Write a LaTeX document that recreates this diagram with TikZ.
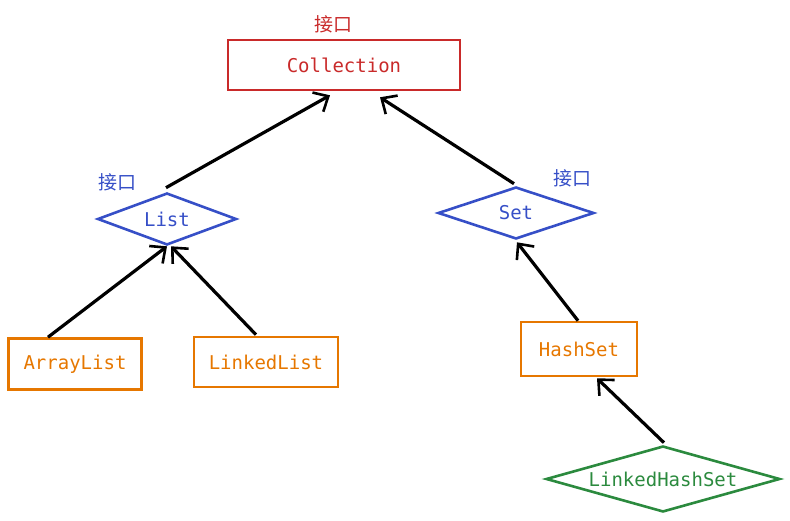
\documentclass[tikz,border=0pt]{standalone}
\usepackage{fontspec}
\setmonofont{DejaVu Sans Mono}
\newfontfamily\cjk{Noto Sans CJK SC}
\usetikzlibrary{shapes.geometric,arrows.meta,calc}
\definecolor{cred}{HTML}{C92A2A}
\definecolor{cblue}{HTML}{364FC7}
\definecolor{corange}{HTML}{E67700}
\definecolor{cgreen}{HTML}{2B8A3E}
\tikzset{
  lbl/.style={font=\ttfamily\fontsize{19}{21}\selectfont},
  boxnode/.style={lbl, draw, line width=2.6pt, rectangle, inner sep=0pt},
  dianode/.style={lbl, draw, line width=2.6pt, diamond, inner sep=0pt},
  cjklbl/.style={font=\cjk\fontsize{19}{21}\selectfont, inner sep=0pt},
  arr/.style={line width=3.2pt, -{Straight Barb[length=12pt,width=22pt,line width=2.6pt]}},
}
\begin{document}
\begin{tikzpicture}[x=1pt,y=-1pt]
\useasboundingbox (0,0) rectangle (790,521);
\node[boxnode, cred, minimum width=232pt, minimum height=50pt] (coll) at (344,65) {Collection};
\node[cjklbl, text=cred] (lcoll) at (333,24) {接口};

\node[dianode, cblue, minimum width=139pt, minimum height=52pt, aspect=2.7] (list) at (167,219) {List};
\node[cjklbl, text=cblue] (llist) at (117,182) {接口};
\node[dianode, cblue, minimum width=156pt, minimum height=52pt, aspect=3] (set) at (516,213) {Set};
\node[cjklbl, text=cblue] (lset) at (572,178) {接口};

\node[boxnode, corange, minimum width=133pt, minimum height=51pt] (al) at (75,364) {ArrayList};
\node[boxnode, corange, minimum width=144pt, minimum height=50pt] (ll) at (266,362) {LinkedList};
\node[boxnode, corange, minimum width=116pt, minimum height=54pt] (hs) at (579,349) {HashSet};
\node[dianode, cgreen, minimum width=234pt, minimum height=66pt, aspect=3.5] (lhs) at (663,479) {LinkedHashSet};

\coordinate (s1) at ($(list.north)+(-1,-4)$);
\coordinate (e1) at ($(coll.south)+(-14,4)$);
\coordinate (s2) at ($(set.north)+(-2,-2)$);
\coordinate (e2) at ($(coll.south)+(36,6)$);
\coordinate (s3) at ($(al.north)+(-27,0)$);
\coordinate (e3) at ($(list.south)+(0,0)$);
\coordinate (s4) at ($(ll.north)+(-10,-1)$);
\coordinate (e4) at ($(list.south)+(4,0)$);
\coordinate (s5) at ($(hs.north)+(-1,0)$);
\coordinate (e5) at ($(set.south)+(1,2)$);
\coordinate (s6) at ($(lhs.north)+(1,-2)$);
\coordinate (e6) at ($(hs.south)+(18,1)$);
\draw[arr] (s1) -- (e1);
\draw[arr] (s2) -- (e2);
\draw[arr] (s3) -- (e3);
\draw[arr] (s4) -- (e4);
\draw[arr] (s5) -- (e5);
\draw[arr] (s6) -- (e6);
\end{tikzpicture}
\end{document}
